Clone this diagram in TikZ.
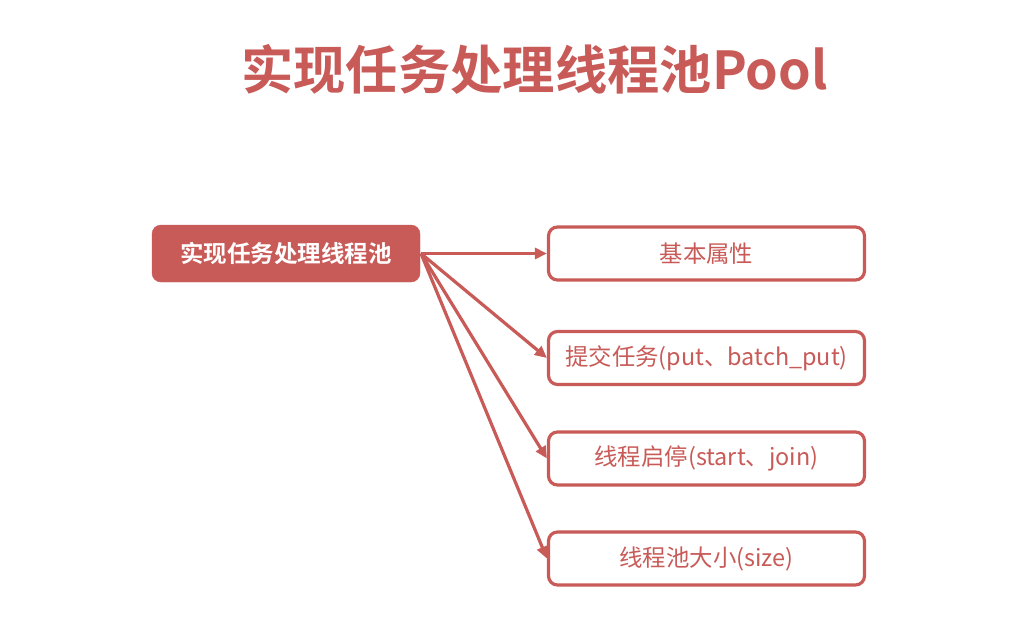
\documentclass[tikz,border=0pt]{standalone}
\usepackage{fontspec}
\newfontfamily\cjk{Noto Sans CJK SC}
\newfontfamily\cjkb{Noto Sans CJK SC Bold}
\usetikzlibrary{arrows.meta}
\definecolor{rd}{RGB}{200,90,87}
\begin{document}
\begin{tikzpicture}[x=1pt,y=-1pt,
  mainbox/.style={fill=rd,draw=rd,rounded corners=9pt,minimum width=268pt,minimum height=57pt,text=white,font=\cjkb\fontsize{23.5}{28}\selectfont,inner sep=0pt},
  itembox/.style={fill=white,draw=rd,line width=3.2pt,rounded corners=9pt,minimum width=316pt,minimum height=53pt,text=rd,font=\cjk\fontsize{23.4}{28}\selectfont,inner sep=0pt},
  conn/.style={draw=rd,line width=3.2pt,-{Triangle[length=12pt,width=11pt]}}]
\useasboundingbox (0,0) rectangle (1014,626);
\node[text=rd,font=\cjkb\fontsize{52.3}{58}\selectfont] (title) at (534.5,69) {实现任务处理线程池Pool};
\node[mainbox] (main) at (286,253.5) {实现任务处理线程池};
\node[itembox] (b1) at (706.5,253.5) {基本属性};
\node[itembox] (b2) at (706.5,358) {提交任务(put、batch\_put)};
\node[itembox] (b3) at (706.5,458.5) {线程启停(start、join)};
\node[itembox] (b4) at (706.5,558.5) {线程池大小(size)};
\coordinate (s) at (421,253.5);
\draw[conn] (s) -- (b1.west);
\draw[conn] (s) -- (b2.west);
\draw[conn] (s) -- (b3.west);
\draw[conn] (s) -- (b4.west);
\end{tikzpicture}
\end{document}
